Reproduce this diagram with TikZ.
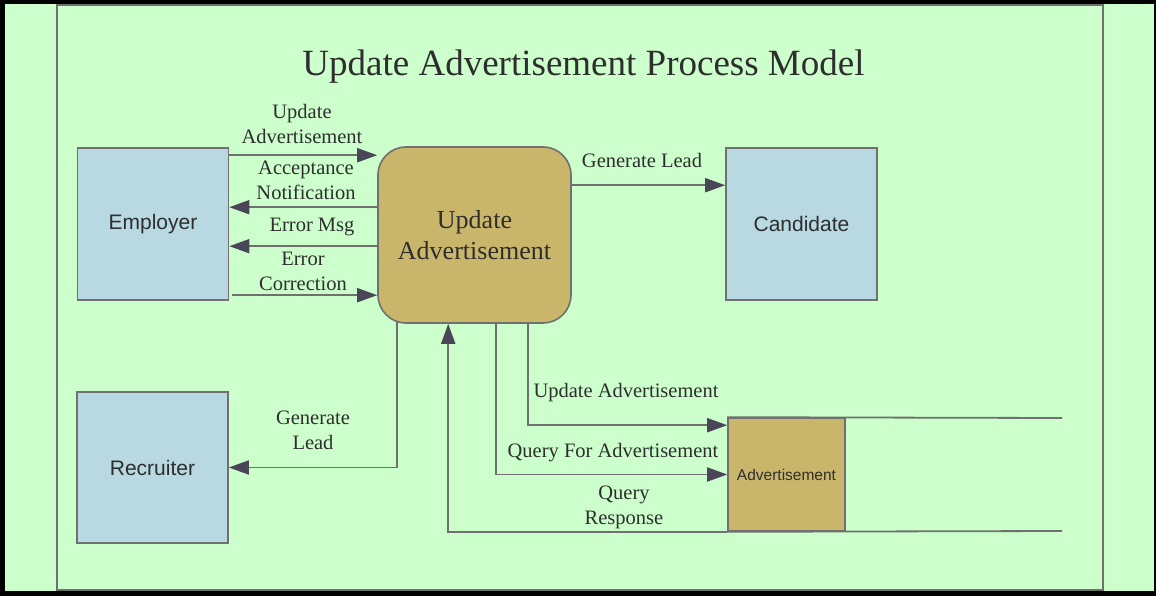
\documentclass[tikz,border=0pt]{standalone}
\usepackage{fontspec}
\setmainfont{Liberation Serif}
\newfontfamily\arialf{Liberation Sans}
\usetikzlibrary{arrows.meta,calc}
\definecolor{bggreen}{HTML}{CCFFCC}
\definecolor{boxblue}{HTML}{B8D8E2}
\definecolor{boxtan}{HTML}{C9B66B}
\definecolor{edgegrey}{HTML}{707070}
\definecolor{tipc}{HTML}{4A4658}
\definecolor{txt}{HTML}{2E2E2E}
\pgfdeclarelayer{back}
\pgfdeclarelayer{lines}
\pgfsetlayers{back,lines,main}
\tikzset{
  entity/.style={draw=edgegrey, line width=1.6pt, fill=boxblue, minimum width=151pt, minimum height=152pt, inner sep=0pt, font=\arialf\fontsize{21}{25}\selectfont, text=txt},
  procbox/.style={draw=edgegrey, line width=1.6pt, fill=boxtan, rounded corners=28pt, minimum width=193pt, minimum height=176pt, inner sep=0pt, align=center, font=\fontsize{26}{31}\selectfont, text=txt},
  storebox/.style={draw=edgegrey, line width=1.6pt, fill=boxtan, minimum width=117pt, minimum height=113pt, inner sep=0pt, font=\arialf\fontsize{15.5}{18}\selectfont, text=txt},
  lbl/.style={inner sep=0pt, align=center, font=\fontsize{20.5}{25}\selectfont, text=txt},
  arr/.style={draw=edgegrey, line width=1.8pt, -{Triangle[length=20pt,width=14pt,color=tipc]}},
  plain/.style={draw=edgegrey, line width=1.8pt}
}
\begin{document}
\begin{tikzpicture}[x=1pt,y=-1pt]
\useasboundingbox (0,0) rectangle (1156,596);
\begin{pgfonlayer}{back}
  \fill[black] (0,0) rectangle (1156,596);
  \fill[bggreen] (5,4) rectangle (1154,591);
  \draw[edgegrey, line width=1.6pt] (57,5) rectangle (1103,590);
\end{pgfonlayer}

\node[inner sep=0pt, anchor=base, font=\fontsize{37}{44}\selectfont, text=txt] (title) at (583.5,76) {Update Advertisement Process Model};

\node[entity] (emp) at (153,224) {Employer};
\node[entity] (cand) at (801.5,224) {Candidate};
\node[entity, minimum height=151pt] (rec) at (152.5,467.5) {Recruiter};
\node[procbox] (proc) at (474.5,235) {Update\\Advertisement};
\node[storebox] (store) at (786.5,474.5) {Advertisement};

\coordinate (storeTopEnd) at (1062,418);
\coordinate (storeBotEnd) at (1062,531);

\begin{pgfonlayer}{lines}
  \draw[plain] (store.north west) -- (storeTopEnd);
  \draw[plain] (store.south west) -- (storeBotEnd);

  \coordinate (e1) at ($(emp.north east)+(0,8)$);
  \coordinate (e2) at ($(emp.north east)+(0,60)$);
  \coordinate (e3) at ($(emp.north east)+(0,99)$);
  \coordinate (e4) at ($(emp.north east)+(3,148)$);
  \draw[arr] (e1) -- (e1 -| proc.west);
  \draw[arr] (e2 -| proc.west) -- (e2);
  \draw[arr] (e3 -| proc.west) -- (e3);
  \draw[arr] (e4) -- (e4 -| proc.west);

  \coordinate (g1) at ($(proc.north east)+(0,39)$);
  \draw[arr] (g1) -- (g1 -| cand.west);

  \draw[arr] ($(proc.south west)+(20,-6)$) |- (rec.east);
  \draw[arr] ($(proc.south west)+(151,-6)$) |- ($(store.north west)+(0,8)$);
  \draw[arr] ($(proc.south west)+(119,-6)$) |- (store.west);
  \draw[arr] (store.south west) -| ($(proc.south west)+(71,0)$);
\end{pgfonlayer}

\node[lbl] (l1) at (302,123.5) {Update\\Advertisement};
\node[lbl] (l2) at (306,180.5) {Acceptance\\Notification};
\node[lbl, anchor=base] (l3) at (312,232) {Error Msg};
\node[lbl] (l4) at (303,271.7) {Error\\Correction};
\node[lbl, anchor=base] (l5) at (642,168) {Generate Lead};
\node[lbl] (l6) at (313,430.5) {Generate\\Lead};
\node[lbl, anchor=base] (l7) at (626,397) {Update Advertisement};
\node[lbl, anchor=base] (l8) at (613,457) {Query For Advertisement};
\node[lbl] (l9) at (624,507.5) {Query\\Response};
\end{tikzpicture}
\end{document}
